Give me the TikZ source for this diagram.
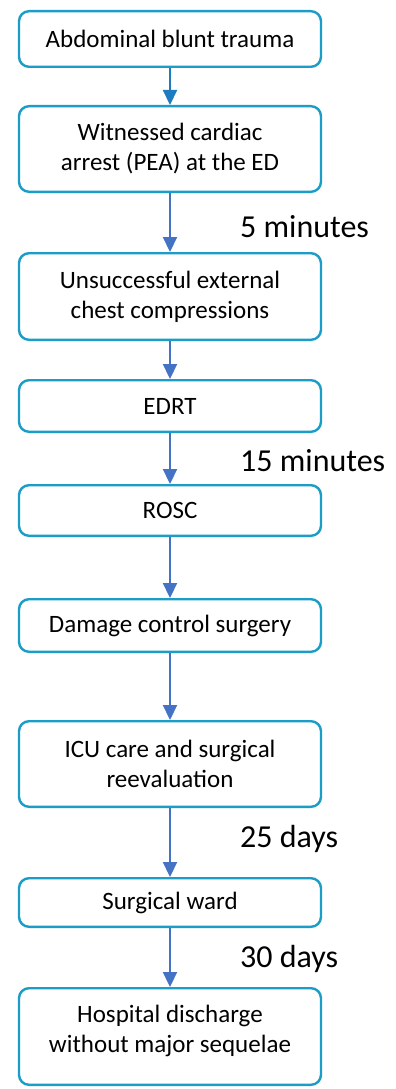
\documentclass[tikz,border=0pt]{standalone}
\usepackage{fontspec}
\setmainfont{Carlito}
\usetikzlibrary{arrows.meta}
\pgfdeclarelayer{edgelayer}
\pgfdeclarelayer{nodelayer}
\pgfsetlayers{edgelayer,nodelayer,main}
\definecolor{box_blue}{RGB}{27,157,199}
\definecolor{flow_blue}{RGB}{68,114,196}
\definecolor{first_blue}{RGB}{30,123,192}
\tikzstyle{step_box}=[rectangle,rounded corners=10pt,draw=box_blue,line width=2.4pt,fill=white,minimum width=302pt,align=center,inner sep=2pt,font=\fontsize{25}{30}\selectfont]
\tikzstyle{time_label}=[anchor=base west,inner sep=0pt,font=\fontsize{32}{38}\selectfont]
\tikzstyle{flow}=[-{Triangle[length=15pt,width=14pt]},draw=flow_blue,line width=2.2pt]

\begin{document}
\begin{tikzpicture}[x=1pt,y=1pt]
	\useasboundingbox (0, 0) rectangle (396, -1089);
	\begin{pgfonlayer}{nodelayer}
		\node [style={step_box}, minimum height=55.6pt] (0) at (170, -39) {Abdominal blunt trauma};
		\node [style={step_box}, minimum height=85.6pt] (1) at (170, -149) {Witnessed cardiac\\arrest (PEA) at the ED};
		\node [style={step_box}, minimum height=86.6pt] (2) at (170, -296.5) {Unsuccessful external\\chest compressions};
		\node [style={step_box}, minimum height=51.6pt] (3) at (170, -406) {EDRT};
		\node [style={step_box}, minimum height=50.6pt] (4) at (170, -510.5) {ROSC};
		\node [style={step_box}, minimum height=52.6pt] (5) at (170, -625.5) {Damage control surgery};
		\node [style={step_box}, minimum height=85.6pt] (6) at (170, -764) {ICU care and surgical\\reevaluation};
		\node [style={step_box}, minimum height=48.6pt] (7) at (170, -902.5) {Surgical ward};
		\node [style={step_box}, minimum height=96.6pt] (8) at (170, -1036.5) {Hospital discharge\\without major sequelae\\[-14pt]};
		\node [style={time_label}] (9) at (240, -237) {5 minutes};
		\node [style={time_label}] (10) at (240, -471) {15 minutes};
		\node [style={time_label}] (11) at (240, -847) {25 days};
		\node [style={time_label}] (12) at (240, -967) {30 days};
	\end{pgfonlayer}
	\begin{pgfonlayer}{edgelayer}
		\draw [style=flow, draw=first_blue, fill=first_blue] (0) to (1);
		\draw [style=flow, fill=flow_blue] (1) to (2);
		\draw [style=flow, fill=flow_blue] (2) to (3);
		\draw [style=flow, fill=flow_blue] (3) to (4);
		\draw [style=flow, fill=flow_blue] (4) to (5);
		\draw [style=flow, fill=flow_blue] (5) to (6);
		\draw [style=flow, fill=flow_blue] (6) to (7);
		\draw [style=flow, fill=flow_blue] (7) to (8);
	\end{pgfonlayer}
\end{tikzpicture}
\end{document}
